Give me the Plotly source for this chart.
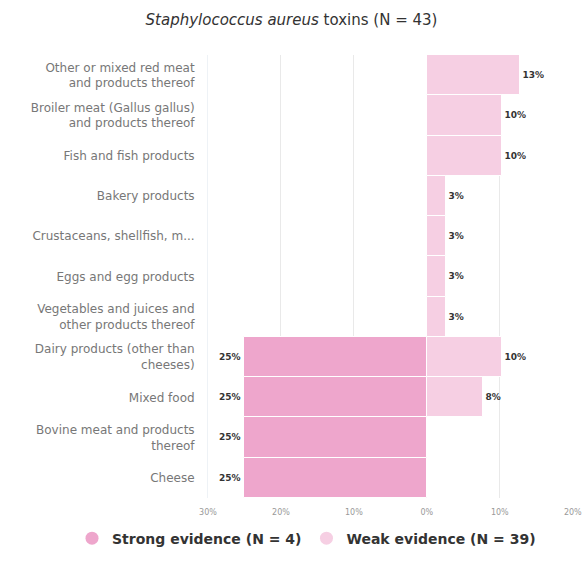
import plotly.graph_objects as go

categories = [
    "Other or mixed red meat<br>and products thereof",
    "Broiler meat (Gallus gallus)<br>and products thereof",
    "Fish and fish products",
    "Bakery products",
    "Crustaceans, shellfish, m...",
    "Eggs and egg products",
    "Vegetables and juices and<br>other products thereof",
    "Dairy products (other than<br>cheeses)",
    "Mixed food",
    "Bovine meat and products<br>thereof",
    "Cheese",
]
strong_pct = [None, None, None, None, None, None, None, 25, 25, 25, 25]
weak_pct = [12.8, 10.3, 10.3, 2.6, 2.6, 2.6, 2.6, 10.3, 7.7, None, None]
tick_vals = [-30, -20, -10, 0, 10, 20]
tick_text = ["30%", "20%", "10%", "0%", "10%", "20%"]

STRONG = "#EEA6CC"
WEAK = "#F6CFE3"

label_font = dict(size=9, color="#333", family="DejaVu Sans", weight="bold")

fig = go.Figure()
fig.add_trace(go.Bar(
    y=categories,
    x=[-v if v is not None else None for v in strong_pct],
    orientation="h",
    marker=dict(color=STRONG, line=dict(color="white", width=1)),
    text=[f"{round(v)}%" if v else "" for v in strong_pct],
    textposition="outside",
    textfont=label_font,
    cliponaxis=False,
    showlegend=False,
    hoverinfo="skip",
))
fig.add_trace(go.Bar(
    y=categories,
    x=weak_pct,
    orientation="h",
    marker=dict(color=WEAK, line=dict(color="white", width=1)),
    text=[f"{round(v)}%" if v else "" for v in weak_pct],
    textposition="outside",
    textfont=label_font,
    cliponaxis=False,
    showlegend=False,
    hoverinfo="skip",
))
# legend entries with circle symbols
fig.add_trace(go.Scatter(x=[None], y=[None], mode="markers",
                         marker=dict(symbol="circle", size=13, color=STRONG),
                         name="Strong evidence (N = 4)"))
fig.add_trace(go.Scatter(x=[None], y=[None], mode="markers",
                         marker=dict(symbol="circle", size=13, color=WEAK),
                         name="Weak evidence (N = 39)"))

PLOT_W = 583 - 208 - 10
PLOT_H = 565 - 55 - 62

fig.update_layout(
    width=583, height=565,
    margin=dict(l=208, r=10, t=55, b=62),
    barmode="relative",
    bargap=0,
    plot_bgcolor="white",
    paper_bgcolor="white",
    font=dict(family="DejaVu Sans", color="#666"),
    title=dict(text="<i>Staphylococcus aureus</i> toxins (N = 43)",
               x=0.5, xanchor="center", xref="container",
               y=1 - 20 / 565, yanchor="middle", yref="container",
               font=dict(size=15, color="#333", family="DejaVu Sans")),
    legend=dict(orientation="h", x=(72 - 208) / PLOT_W, xanchor="left",
                y=(503 - 544) / PLOT_H, yanchor="middle",
                font=dict(size=14, color="#333", family="DejaVu Sans", weight="bold"),
                itemwidth=30, tracegroupgap=0),
    xaxis=dict(range=[-30, 20.03], tickvals=tick_vals, ticktext=tick_text,
               showgrid=True, gridcolor="#e9e9e9", gridwidth=1,
               zeroline=False, showline=False, automargin=False,
               ticklabeloverflow="allow",
               tickfont=dict(size=8, color="#999"), ticks="", ticklabelstandoff=8),
    yaxis=dict(autorange="reversed", showgrid=False, zeroline=False,
               showline=True, linecolor="#eef2f6", linewidth=1, automargin=False,
               tickfont=dict(size=12, color="#777"), ticks="", ticklabelstandoff=10),
)

fig.write_html("out.html", config={"displayModeBar": False},
               post_script="document.body.style.margin='0';")
